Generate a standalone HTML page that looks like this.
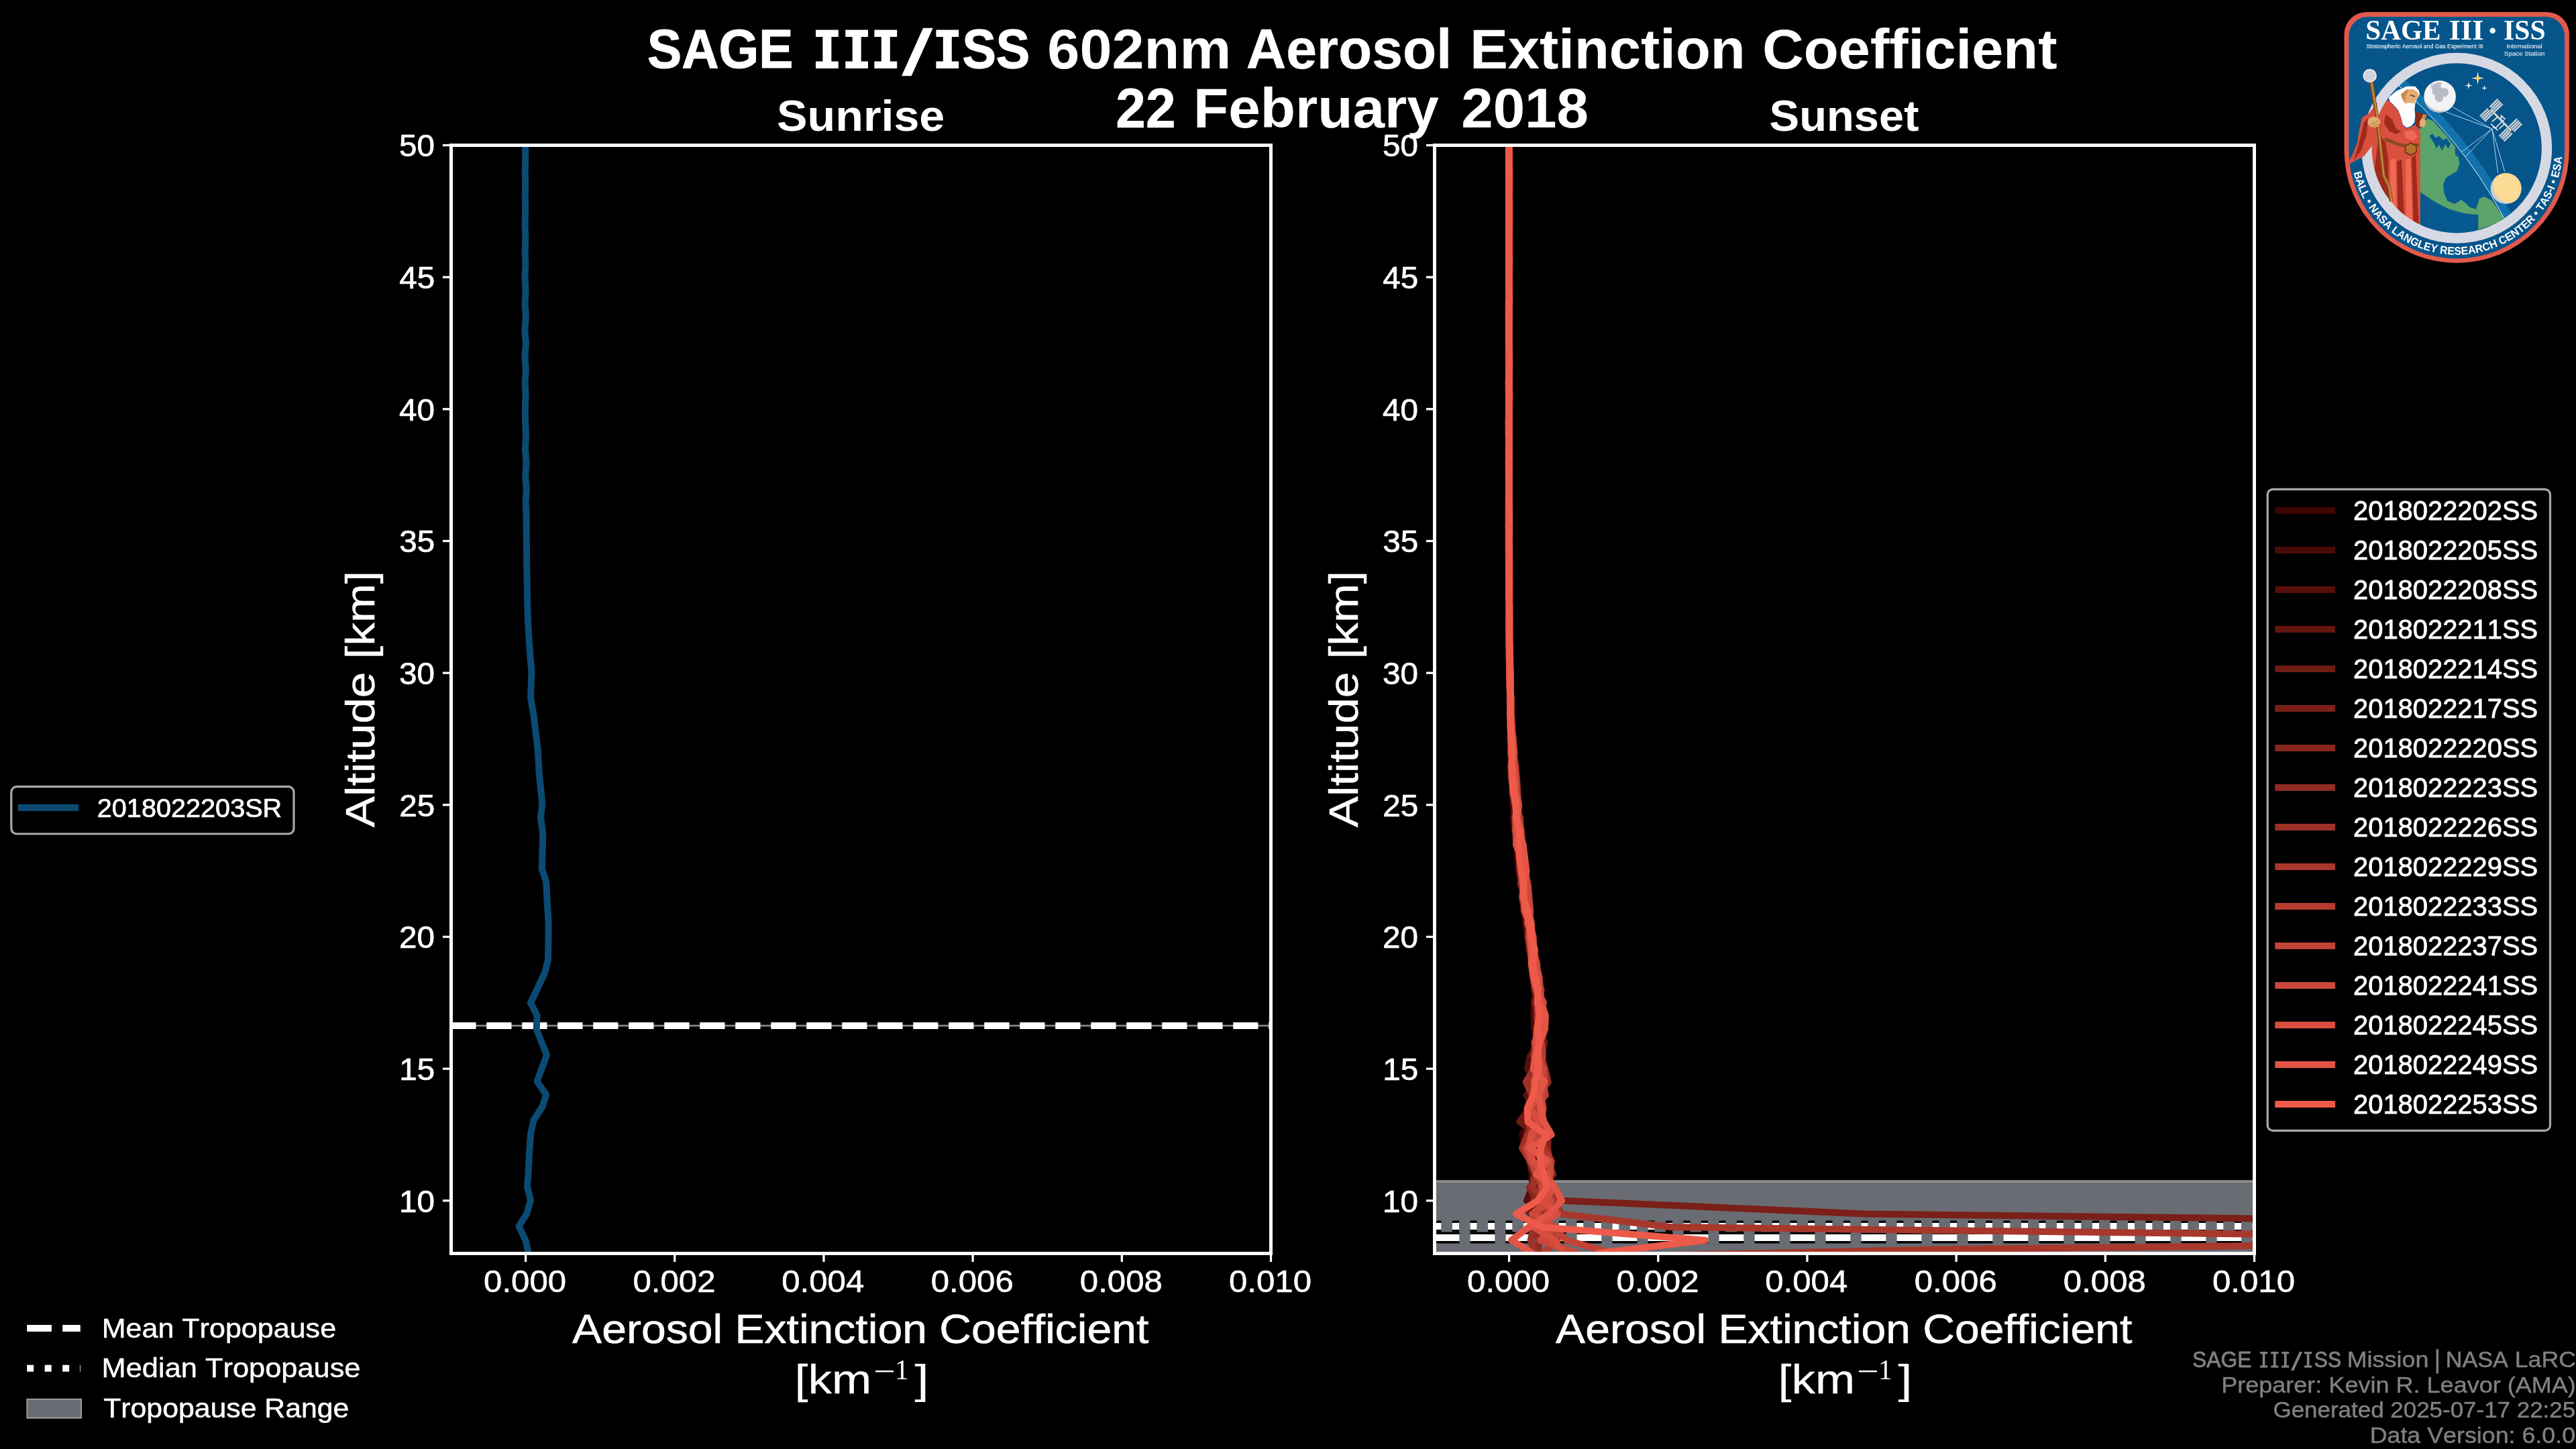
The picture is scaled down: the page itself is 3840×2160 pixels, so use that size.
<!DOCTYPE html>
<html><head><meta charset="utf-8"><title>SAGE III/ISS 602nm Aerosol Extinction Coefficient</title>
<style>html,body{margin:0;padding:0;background:#000;overflow:hidden}svg{display:block;will-change:transform}text{white-space:pre}</style></head>
<body><svg width="3840" height="2160" viewBox="0 0 3840 2160">
<rect width="3840" height="2160" fill="#000"/>
<clipPath id="clip0"><rect x="672.5" y="216.5" width="1222.0" height="1652.0"/></clipPath>
<g clip-path="url(#clip0)">
<rect x="672.5" y="1527.6" width="1222.0" height="2.8" fill="#858585"/>
<line x1="672.5" y1="1529.0" x2="1894.5" y2="1529.0" stroke="#fff" stroke-width="10" stroke-dasharray="37 16"/>
<line x1="672.5" y1="1529.0" x2="1894.5" y2="1529.0" stroke="#fff" stroke-width="10" stroke-dasharray="10 16.5"/>
<polyline points="783.0,216.5 783.3,236.0 782.7,256.0 783.2,275.0 782.8,295.0 783.2,315.0 782.6,335.0 783.4,354.0 782.6,374.0 783.5,394.0 782.5,413.0 783.6,433.0 782.6,453.0 783.8,472.0 782.4,492.0 783.9,512.0 782.5,531.0 783.8,551.0 782.6,571.0 783.6,590.0 782.8,610.0 783.2,630.0 784.0,650.0 783.0,670.0 784.5,690.0 783.2,709.0 784.8,729.0 783.6,749.0 784.6,768.0 784.8,800.0 785.3,850.0 786.0,890.0 786.7,920.0 788.5,950.0 790.5,980.0 792.5,1001.0 791.0,1040.0 796.0,1069.0 801.7,1118.0 804.0,1156.0 808.4,1198.0 806.0,1218.0 809.3,1243.0 807.8,1295.0 814.2,1315.0 815.7,1344.0 817.7,1376.0 817.0,1431.0 812.2,1450.0 791.0,1495.0 800.6,1514.0 799.7,1534.0 815.0,1573.0 800.6,1612.0 814.2,1632.0 808.4,1650.0 795.4,1670.0 791.0,1690.6 789.0,1720.0 787.5,1749.0 786.0,1769.0 791.0,1789.0 785.2,1809.4 773.6,1828.0 783.8,1850.0 788.0,1869.5" fill="none" stroke="#0b4a72" stroke-width="10.0" stroke-linejoin="round" stroke-linecap="butt"/>
</g>
<rect x="672.5" y="216.5" width="1222.0" height="1652.0" fill="none" stroke="#fff" stroke-width="5"/>
<line x1="672.50" y1="1789.83" x2="660.00" y2="1789.83" stroke="#fff" stroke-width="3.30"/>
<line x1="672.50" y1="1593.17" x2="660.00" y2="1593.17" stroke="#fff" stroke-width="3.30"/>
<line x1="672.50" y1="1396.50" x2="660.00" y2="1396.50" stroke="#fff" stroke-width="3.30"/>
<line x1="672.50" y1="1199.83" x2="660.00" y2="1199.83" stroke="#fff" stroke-width="3.30"/>
<line x1="672.50" y1="1003.17" x2="660.00" y2="1003.17" stroke="#fff" stroke-width="3.30"/>
<line x1="672.50" y1="806.50" x2="660.00" y2="806.50" stroke="#fff" stroke-width="3.30"/>
<line x1="672.50" y1="609.83" x2="660.00" y2="609.83" stroke="#fff" stroke-width="3.30"/>
<line x1="672.50" y1="413.17" x2="660.00" y2="413.17" stroke="#fff" stroke-width="3.30"/>
<line x1="672.50" y1="216.50" x2="660.00" y2="216.50" stroke="#fff" stroke-width="3.30"/>
<line x1="783.59" y1="1868.50" x2="783.59" y2="1881.00" stroke="#fff" stroke-width="3.30"/>
<line x1="1005.77" y1="1868.50" x2="1005.77" y2="1881.00" stroke="#fff" stroke-width="3.30"/>
<line x1="1227.95" y1="1868.50" x2="1227.95" y2="1881.00" stroke="#fff" stroke-width="3.30"/>
<line x1="1450.14" y1="1868.50" x2="1450.14" y2="1881.00" stroke="#fff" stroke-width="3.30"/>
<line x1="1672.32" y1="1868.50" x2="1672.32" y2="1881.00" stroke="#fff" stroke-width="3.30"/>
<line x1="1894.50" y1="1868.50" x2="1894.50" y2="1881.00" stroke="#fff" stroke-width="3.30"/>
<text transform="translate(595.09,1806.53) scale(1.0420,1.0000)" style="font-family:'Liberation Sans';font-size:45.70px;font-weight:400;font-kerning:none" fill="#fff"  stroke="#fff" stroke-width="0.72" stroke-linejoin="round">10</text>
<text transform="translate(595.23,1609.87) scale(1.0420,1.0000)" style="font-family:'Liberation Sans';font-size:45.70px;font-weight:400;font-kerning:none" fill="#fff"  stroke="#fff" stroke-width="0.72" stroke-linejoin="round">15</text>
<text transform="translate(595.09,1413.20) scale(1.0420,1.0000)" style="font-family:'Liberation Sans';font-size:45.70px;font-weight:400;font-kerning:none" fill="#fff"  stroke="#fff" stroke-width="0.72" stroke-linejoin="round">20</text>
<text transform="translate(595.23,1216.53) scale(1.0420,1.0000)" style="font-family:'Liberation Sans';font-size:45.70px;font-weight:400;font-kerning:none" fill="#fff"  stroke="#fff" stroke-width="0.72" stroke-linejoin="round">25</text>
<text transform="translate(595.09,1019.87) scale(1.0420,1.0000)" style="font-family:'Liberation Sans';font-size:45.70px;font-weight:400;font-kerning:none" fill="#fff"  stroke="#fff" stroke-width="0.72" stroke-linejoin="round">30</text>
<text transform="translate(595.23,823.20) scale(1.0420,1.0000)" style="font-family:'Liberation Sans';font-size:45.70px;font-weight:400;font-kerning:none" fill="#fff"  stroke="#fff" stroke-width="0.72" stroke-linejoin="round">35</text>
<text transform="translate(595.09,626.53) scale(1.0420,1.0000)" style="font-family:'Liberation Sans';font-size:45.70px;font-weight:400;font-kerning:none" fill="#fff"  stroke="#fff" stroke-width="0.72" stroke-linejoin="round">40</text>
<text transform="translate(595.23,429.87) scale(1.0420,1.0000)" style="font-family:'Liberation Sans';font-size:45.70px;font-weight:400;font-kerning:none" fill="#fff"  stroke="#fff" stroke-width="0.72" stroke-linejoin="round">45</text>
<text transform="translate(595.09,233.20) scale(1.0420,1.0000)" style="font-family:'Liberation Sans';font-size:45.70px;font-weight:400;font-kerning:none" fill="#fff"  stroke="#fff" stroke-width="0.72" stroke-linejoin="round">50</text>
<text transform="translate(721.02,1926.40) scale(1.0768,1.0000)" style="font-family:'Liberation Sans';font-size:45.70px;font-weight:400;font-kerning:none" fill="#fff"  stroke="#fff" stroke-width="0.56" stroke-linejoin="round">0.000</text>
<text transform="translate(943.48,1926.40) scale(1.0768,1.0000)" style="font-family:'Liberation Sans';font-size:45.70px;font-weight:400;font-kerning:none" fill="#fff"  stroke="#fff" stroke-width="0.56" stroke-linejoin="round">0.002</text>
<text transform="translate(1165.14,1926.40) scale(1.0768,1.0000)" style="font-family:'Liberation Sans';font-size:45.70px;font-weight:400;font-kerning:none" fill="#fff"  stroke="#fff" stroke-width="0.56" stroke-linejoin="round">0.004</text>
<text transform="translate(1387.68,1926.40) scale(1.0768,1.0000)" style="font-family:'Liberation Sans';font-size:45.70px;font-weight:400;font-kerning:none" fill="#fff"  stroke="#fff" stroke-width="0.56" stroke-linejoin="round">0.006</text>
<text transform="translate(1609.85,1926.40) scale(1.0768,1.0000)" style="font-family:'Liberation Sans';font-size:45.70px;font-weight:400;font-kerning:none" fill="#fff"  stroke="#fff" stroke-width="0.56" stroke-linejoin="round">0.008</text>
<text transform="translate(1831.93,1926.40) scale(1.0768,1.0000)" style="font-family:'Liberation Sans';font-size:45.70px;font-weight:400;font-kerning:none" fill="#fff"  stroke="#fff" stroke-width="0.56" stroke-linejoin="round">0.010</text>
<text transform="translate(557.50,1233.41) rotate(-90) scale(1.1419,1.0000)" style="font-family:'Liberation Sans';font-size:60.90px;font-weight:400;font-kerning:none" fill="#fff"  stroke="#fff" stroke-width="0.40" stroke-linejoin="round">Altitude [km]</text>
<text transform="translate(853.11,2001.69) scale(1.0985,1.0000)" style="font-family:'Liberation Sans';font-size:60.15px;font-weight:400;font-kerning:none" fill="#fff"  stroke="#fff" stroke-width="0.62" stroke-linejoin="round">Aerosol Extinction Coefficient</text>
<text transform="translate(1184.79,2077.17) scale(1.1710,1.0000)" style="font-family:'Liberation Sans';font-size:60.67px;font-weight:400;font-kerning:none" fill="#fff"  stroke="#fff" stroke-width="0.26" stroke-linejoin="round">[km</text>
<text transform="translate(1363.29,2077.30) scale(1.2694,1.0000)" style="font-family:'Liberation Sans';font-size:61.05px;font-weight:400;font-kerning:none" fill="#fff" >]</text>
<rect x="1305.0" y="2043.0" width="27" height="2.4" fill="#fff"/>
<text transform="translate(1333.88,2055.50) scale(0.9806,1.0000)" style="font-family:'Liberation Serif';font-size:42.00px;font-weight:400;font-kerning:none" fill="#fff" >1</text>
<clipPath id="clip1"><rect x="2138.5" y="216.5" width="1222.0" height="1652.0"/></clipPath>
<g clip-path="url(#clip1)">
<rect x="2138.5" y="1760.8" width="1222.0" height="112.7" fill="#696c72"/>
<rect x="2138.5" y="1759.0" width="1222.0" height="1.75" fill="#7c7e81"/>
<rect x="2138.5" y="1760.8" width="1222.0" height="1.7" fill="#a4a7aa"/>
<line x1="2138.5" y1="1828.0" x2="3360.5" y2="1828.0" stroke="#000" stroke-width="17" stroke-dasharray="10 16.5"/><line x1="2138.5" y1="1828.0" x2="3360.5" y2="1828.0" stroke="#fff" stroke-width="10" stroke-dasharray="10 16.5"/>
<line x1="2138.5" y1="1845.0" x2="3360.5" y2="1845.0" stroke="#000" stroke-width="17" stroke-dasharray="37 16"/><line x1="2138.5" y1="1845.0" x2="3360.5" y2="1845.0" stroke="#fff" stroke-width="10" stroke-dasharray="37 16"/>
<polyline points="2249.3,216.5 2249.9,236.2 2249.5,255.8 2249.1,275.5 2249.4,295.2 2248.8,314.8 2249.2,334.5 2249.4,354.2 2249.6,373.8 2249.0,393.5 2248.9,413.2 2248.7,432.8 2249.3,452.5 2249.4,472.2 2248.7,491.8 2249.7,511.5 2250.0,531.2 2249.6,550.8 2249.3,570.5 2248.9,590.2 2248.7,609.8 2249.0,629.5 2248.6,649.2 2248.6,668.8 2248.6,688.5 2248.6,708.2 2248.6,727.8 2248.6,747.5 2249.5,767.2 2249.2,786.8 2249.5,806.5 2249.2,826.2 2249.5,845.8 2249.5,865.5 2248.9,885.2 2250.0,904.8 2250.2,924.5 2250.1,944.2 2250.4,963.8 2250.0,983.5 2249.7,1003.2 2250.1,1022.8 2250.4,1042.5 2251.7,1062.2 2252.0,1081.8 2254.5,1101.5 2253.5,1121.2 2257.2,1140.8 2259.3,1160.5 2253.8,1180.2 2254.9,1199.8 2263.0,1219.5 2263.1,1239.2 2268.4,1258.8 2267.6,1278.5 2264.7,1298.2 2269.9,1317.8 2274.5,1337.5 2273.3,1357.2 2273.8,1376.8 2276.8,1396.5 2286.1,1416.2 2288.8,1435.8 2285.2,1455.5 2288.5,1475.2 2286.7,1494.8 2286.1,1514.5 2296.3,1534.2 2286.7,1553.8 2286.1,1573.5 2286.9,1593.2 2275.4,1612.8 2289.3,1632.5 2275.8,1652.2 2280.8,1671.8 2268.9,1691.5 2273.7,1711.2 2279.8,1730.8 2287.0,1750.5 2307.9,1770.2 2311.5,1789.8 2288.5,1809.5" fill="none" stroke="#400403" stroke-width="10.0" stroke-linejoin="round" stroke-linecap="butt"/>
<polyline points="2249.9,216.5 2249.0,236.2 2250.0,255.8 2248.8,275.5 2248.9,295.2 2249.5,314.8 2249.2,334.5 2249.0,354.2 2248.8,373.8 2248.7,393.5 2249.1,413.2 2249.0,432.8 2249.1,452.5 2249.0,472.2 2249.1,491.8 2249.9,511.5 2249.4,531.2 2249.4,550.8 2249.6,570.5 2249.0,590.2 2248.9,609.8 2249.6,629.5 2249.9,649.2 2249.2,668.8 2248.7,688.5 2249.5,708.2 2249.9,727.8 2248.7,747.5 2249.7,767.2 2249.7,786.8 2249.7,806.5 2249.2,826.2 2248.9,845.8 2248.8,865.5 2249.6,885.2 2249.1,904.8 2249.6,924.5 2249.1,944.2 2250.2,963.8 2250.4,983.5 2250.1,1003.2 2250.0,1022.8 2251.6,1042.5 2250.7,1062.2 2251.1,1081.8 2252.6,1101.5 2255.2,1121.2 2255.7,1140.8 2254.8,1160.5 2259.3,1180.2 2257.1,1199.8 2256.0,1219.5 2257.9,1239.2 2261.7,1258.8 2261.9,1278.5 2264.0,1298.2 2267.2,1317.8 2271.4,1337.5 2271.3,1357.2 2275.6,1376.8 2282.4,1396.5 2288.5,1416.2 2288.8,1435.8 2291.1,1455.5 2294.4,1475.2 2290.9,1494.8 2287.2,1514.5 2286.9,1534.2 2295.9,1553.8 2292.0,1573.5 2299.9,1593.2 2277.4,1612.8 2287.6,1632.5 2284.3,1652.2 2288.9,1671.8 2279.9,1691.5 2297.7,1711.2 2283.7,1730.8 2296.0,1750.5 2303.7,1770.2 2314.1,1789.8" fill="none" stroke="#4c0a07" stroke-width="10.0" stroke-linejoin="round" stroke-linecap="butt"/>
<polyline points="2249.5,216.5 2250.0,236.2 2250.2,255.8 2249.2,275.5 2249.7,295.2 2250.0,314.8 2249.6,334.5 2249.6,354.2 2249.3,373.8 2249.5,393.5 2249.5,413.2 2248.9,432.8 2249.1,452.5 2249.7,472.2 2250.1,491.8 2249.9,511.5 2249.3,531.2 2249.6,550.8 2249.2,570.5 2249.3,590.2 2249.7,609.8 2248.9,629.5 2249.5,649.2 2248.8,668.8 2249.1,688.5 2249.3,708.2 2248.6,727.8 2249.1,747.5 2249.2,767.2 2249.3,786.8 2250.1,806.5 2249.0,826.2 2248.7,845.8 2249.1,865.5 2249.3,885.2 2249.0,904.8 2248.9,924.5 2249.7,944.2 2250.2,963.8 2250.2,983.5 2251.2,1003.2 2250.8,1022.8 2251.7,1042.5 2251.1,1062.2 2251.8,1081.8 2254.3,1101.5 2256.1,1121.2 2258.3,1140.8 2256.5,1160.5 2257.5,1180.2 2257.5,1199.8 2257.3,1219.5 2261.2,1239.2 2266.7,1258.8 2271.7,1278.5 2272.2,1298.2 2276.2,1317.8 2271.8,1337.5 2271.8,1357.2 2276.7,1376.8 2277.5,1396.5 2279.7,1416.2 2283.8,1435.8 2288.6,1455.5 2292.6,1475.2 2293.1,1494.8 2299.6,1514.5 2303.1,1534.2 2295.9,1553.8 2280.9,1573.5 2277.0,1593.2 2291.4,1612.8 2275.6,1632.5 2286.6,1652.2 2284.7,1671.8 2278.5,1691.5 2290.5,1711.2 2279.9,1730.8 2284.1,1750.5 2284.0,1770.2 2276.0,1789.8 2300.0,1809.5 2290.0,1829.2" fill="none" stroke="#570f0c" stroke-width="10.0" stroke-linejoin="round" stroke-linecap="butt"/>
<polyline points="2249.3,216.5 2249.6,236.2 2249.7,255.8 2249.6,275.5 2250.0,295.2 2249.9,314.8 2249.1,334.5 2249.3,354.2 2249.0,373.8 2248.8,393.5 2249.0,413.2 2249.5,432.8 2248.7,452.5 2248.8,472.2 2248.9,491.8 2249.5,511.5 2249.3,531.2 2249.4,550.8 2249.5,570.5 2249.3,590.2 2249.7,609.8 2250.0,629.5 2249.1,649.2 2249.9,668.8 2249.6,688.5 2249.1,708.2 2248.9,727.8 2249.1,747.5 2249.8,767.2 2249.2,786.8 2249.4,806.5 2249.8,826.2 2249.9,845.8 2250.3,865.5 2249.5,885.2 2249.8,904.8 2249.2,924.5 2249.6,944.2 2250.4,963.8 2250.6,983.5 2251.1,1003.2 2250.5,1022.8 2252.1,1042.5 2253.0,1062.2 2254.3,1081.8 2254.6,1101.5 2255.7,1121.2 2253.9,1140.8 2258.9,1160.5 2260.5,1180.2 2259.1,1199.8 2257.6,1219.5 2260.8,1239.2 2263.9,1258.8 2270.0,1278.5 2269.7,1298.2 2266.2,1317.8 2273.9,1337.5 2271.6,1357.2 2279.8,1376.8 2277.8,1396.5 2281.1,1416.2 2287.7,1435.8 2285.4,1455.5 2287.9,1475.2 2294.1,1494.8 2298.4,1514.5 2301.1,1534.2 2299.6,1553.8 2298.1,1573.5 2293.3,1593.2 2302.4,1612.8 2281.0,1632.5 2276.5,1652.2 2278.2,1671.8 2276.0,1691.5 2288.0,1711.2 2299.6,1730.8 2300.7,1750.5 2311.4,1770.2 2305.3,1789.8 2287.9,1809.5 2284.9,1829.2" fill="none" stroke="#631510" stroke-width="10.0" stroke-linejoin="round" stroke-linecap="butt"/>
<polyline points="2249.7,216.5 2250.2,236.2 2249.8,255.8 2249.3,275.5 2249.0,295.2 2249.3,314.8 2249.3,334.5 2249.5,354.2 2248.9,373.8 2249.8,393.5 2249.5,413.2 2249.3,432.8 2249.6,452.5 2249.4,472.2 2249.4,491.8 2249.6,511.5 2248.7,531.2 2249.2,550.8 2248.8,570.5 2249.9,590.2 2250.1,609.8 2249.3,629.5 2249.3,649.2 2248.9,668.8 2249.0,688.5 2249.7,708.2 2250.0,727.8 2249.2,747.5 2249.1,767.2 2248.8,786.8 2249.3,806.5 2249.8,826.2 2249.1,845.8 2249.8,865.5 2248.8,885.2 2248.8,904.8 2248.9,924.5 2249.5,944.2 2249.7,963.8 2249.9,983.5 2250.6,1003.2 2250.2,1022.8 2251.7,1042.5 2251.0,1062.2 2252.1,1081.8 2251.9,1101.5 2251.9,1121.2 2253.6,1140.8 2255.5,1160.5 2255.7,1180.2 2257.9,1199.8 2261.1,1219.5 2259.4,1239.2 2260.2,1258.8 2267.5,1278.5 2270.4,1298.2 2271.6,1317.8 2276.4,1337.5 2277.4,1357.2 2282.4,1376.8 2279.3,1396.5 2285.5,1416.2 2289.5,1435.8 2293.9,1455.5 2293.0,1475.2 2293.7,1494.8 2301.4,1514.5 2294.3,1534.2 2302.2,1553.8 2298.1,1573.5 2286.3,1593.2 2278.1,1612.8 2291.5,1632.5 2280.9,1652.2 2265.2,1671.8 2292.2,1691.5 2283.0,1711.2 2303.3,1730.8 2291.4,1750.5 2289.6,1770.2 2303.4,1789.8 2275.3,1809.5" fill="none" stroke="#6e1b14" stroke-width="10.0" stroke-linejoin="round" stroke-linecap="butt"/>
<polyline points="2249.1,216.5 2249.4,236.2 2249.9,255.8 2249.3,275.5 2249.6,295.2 2249.0,314.8 2248.8,334.5 2248.7,354.2 2248.7,373.8 2249.3,393.5 2249.3,413.2 2249.5,432.8 2248.7,452.5 2248.7,472.2 2248.7,491.8 2249.6,511.5 2250.1,531.2 2250.1,550.8 2248.7,570.5 2248.7,590.2 2249.7,609.8 2249.5,629.5 2249.8,649.2 2249.3,668.8 2249.2,688.5 2249.4,708.2 2249.1,727.8 2249.1,747.5 2248.6,767.2 2249.2,786.8 2250.0,806.5 2249.0,826.2 2249.3,845.8 2249.8,865.5 2249.3,885.2 2249.1,904.8 2248.9,924.5 2249.3,944.2 2249.2,963.8 2250.5,983.5 2251.3,1003.2 2251.6,1022.8 2252.4,1042.5 2252.4,1062.2 2252.5,1081.8 2253.9,1101.5 2254.1,1121.2 2258.3,1140.8 2259.8,1160.5 2256.5,1180.2 2262.5,1199.8 2264.8,1219.5 2268.2,1239.2 2269.0,1258.8 2268.5,1278.5 2273.2,1298.2 2276.3,1317.8 2276.6,1337.5 2279.0,1357.2 2282.2,1376.8 2280.9,1396.5 2286.0,1416.2 2283.2,1435.8 2285.9,1455.5 2291.8,1475.2 2288.1,1494.8 2291.7,1514.5 2296.8,1534.2 2296.6,1553.8 2284.7,1573.5 2297.7,1593.2 2297.0,1612.8 2287.1,1632.5 2289.8,1652.2 2287.7,1671.8 2289.4,1691.5 2281.5,1711.2 2310.0,1730.8 2307.7,1750.5 2312.0,1770.2 2329.0,1789.8 2780.0,1809.5 4400.0,1829.2" fill="none" stroke="#7a2019" stroke-width="10.0" stroke-linejoin="round" stroke-linecap="butt"/>
<polyline points="2248.9,216.5 2248.8,236.2 2248.8,255.8 2248.8,275.5 2248.8,295.2 2248.8,314.8 2249.7,334.5 2249.6,354.2 2249.5,373.8 2250.0,393.5 2249.7,413.2 2250.1,432.8 2249.8,452.5 2249.8,472.2 2249.0,491.8 2249.4,511.5 2249.7,531.2 2248.9,550.8 2249.6,570.5 2249.1,590.2 2249.3,609.8 2248.9,629.5 2249.3,649.2 2249.6,668.8 2248.8,688.5 2249.8,708.2 2249.3,727.8 2249.1,747.5 2249.5,767.2 2249.1,786.8 2248.9,806.5 2249.4,826.2 2249.5,845.8 2249.4,865.5 2249.6,885.2 2249.3,904.8 2248.9,924.5 2248.9,944.2 2249.1,963.8 2249.4,983.5 2250.7,1003.2 2250.8,1022.8 2252.3,1042.5 2252.7,1062.2 2251.6,1081.8 2255.3,1101.5 2256.9,1121.2 2253.0,1140.8 2258.8,1160.5 2257.5,1180.2 2259.4,1199.8 2265.8,1219.5 2262.7,1239.2 2264.6,1258.8 2272.4,1278.5 2272.9,1298.2 2272.2,1317.8 2278.3,1337.5 2280.0,1357.2 2281.3,1376.8 2278.1,1396.5 2284.2,1416.2 2286.1,1435.8 2285.8,1455.5 2287.5,1475.2 2294.7,1494.8 2290.5,1514.5 2294.1,1534.2 2296.3,1553.8 2288.8,1573.5 2285.8,1593.2 2288.8,1612.8 2287.0,1632.5 2293.0,1652.2 2288.4,1671.8 2307.6,1691.5 2307.2,1711.2 2310.3,1730.8 2297.2,1750.5 2280.0,1770.2 2290.0,1789.8 2296.0,1809.5 2285.0,1829.2 2300.0,1848.8" fill="none" stroke="#86261d" stroke-width="10.0" stroke-linejoin="round" stroke-linecap="butt"/>
<polyline points="2249.8,216.5 2249.7,236.2 2249.8,255.8 2249.6,275.5 2249.2,295.2 2249.0,314.8 2249.9,334.5 2250.1,354.2 2250.0,373.8 2249.2,393.5 2248.7,413.2 2249.0,432.8 2248.9,452.5 2249.3,472.2 2248.9,491.8 2249.3,511.5 2248.7,531.2 2248.7,550.8 2249.1,570.5 2249.5,590.2 2249.6,609.8 2249.3,629.5 2249.4,649.2 2249.1,668.8 2249.0,688.5 2249.7,708.2 2250.0,727.8 2248.6,747.5 2248.6,767.2 2249.4,786.8 2249.8,806.5 2249.8,826.2 2249.3,845.8 2249.5,865.5 2249.0,885.2 2249.9,904.8 2249.5,924.5 2249.7,944.2 2250.8,963.8 2250.3,983.5 2250.7,1003.2 2251.6,1022.8 2252.6,1042.5 2252.1,1062.2 2252.3,1081.8 2251.5,1101.5 2255.2,1121.2 2252.3,1140.8 2252.7,1160.5 2256.4,1180.2 2259.1,1199.8 2263.3,1219.5 2262.3,1239.2 2267.1,1258.8 2264.8,1278.5 2265.9,1298.2 2271.6,1317.8 2268.7,1337.5 2272.7,1357.2 2279.9,1376.8 2282.8,1396.5 2282.9,1416.2 2283.0,1435.8 2286.2,1455.5 2294.9,1475.2 2296.3,1494.8 2291.1,1514.5 2297.9,1534.2 2296.6,1553.8 2297.5,1573.5 2303.2,1593.2 2307.9,1612.8 2294.4,1632.5 2296.1,1652.2 2282.2,1671.8 2280.4,1691.5 2279.8,1711.2 2308.2,1730.8 2314.7,1750.5 2296.9,1770.2 2295.5,1789.8 2288.3,1809.5 2286.4,1829.2 2293.3,1848.8 2294.2,1868.5" fill="none" stroke="#912c22" stroke-width="10.0" stroke-linejoin="round" stroke-linecap="butt"/>
<polyline points="2249.3,216.5 2249.9,236.2 2249.8,255.8 2249.8,275.5 2249.7,295.2 2249.1,314.8 2249.7,334.5 2250.0,354.2 2249.4,373.8 2249.0,393.5 2249.3,413.2 2249.5,432.8 2249.4,452.5 2249.9,472.2 2249.9,491.8 2250.1,511.5 2249.0,531.2 2249.3,550.8 2249.6,570.5 2249.0,590.2 2248.9,609.8 2249.5,629.5 2250.0,649.2 2249.2,668.8 2249.4,688.5 2249.1,708.2 2249.5,727.8 2249.4,747.5 2249.1,767.2 2248.9,786.8 2249.7,806.5 2249.4,826.2 2249.8,845.8 2249.7,865.5 2249.2,885.2 2250.2,904.8 2250.0,924.5 2249.7,944.2 2250.1,963.8 2250.7,983.5 2251.2,1003.2 2252.1,1022.8 2251.8,1042.5 2252.7,1062.2 2253.4,1081.8 2255.9,1101.5 2256.5,1121.2 2258.7,1140.8 2260.8,1160.5 2262.5,1180.2 2262.9,1199.8 2263.3,1219.5 2267.2,1239.2 2268.9,1258.8 2269.0,1278.5 2269.3,1298.2 2267.9,1317.8 2274.4,1337.5 2280.7,1357.2 2279.7,1376.8 2278.3,1396.5 2280.7,1416.2 2284.9,1435.8 2286.4,1455.5 2297.7,1475.2 2292.9,1494.8 2293.0,1514.5 2291.0,1534.2 2294.8,1553.8 2294.6,1573.5 2286.9,1593.2 2274.6,1612.8 2284.1,1632.5 2288.0,1652.2 2300.7,1671.8 2276.9,1691.5 2269.0,1711.2 2280.7,1730.8 2288.7,1750.5 2283.6,1770.2 2304.4,1789.8 2302.1,1809.5 2286.0,1829.2 2281.6,1848.8 2287.0,1868.5" fill="none" stroke="#9d3127" stroke-width="10.0" stroke-linejoin="round" stroke-linecap="butt"/>
<polyline points="2249.7,216.5 2249.4,236.2 2249.6,255.8 2249.7,275.5 2249.6,295.2 2249.2,314.8 2249.9,334.5 2250.1,354.2 2249.5,373.8 2249.6,393.5 2250.1,413.2 2249.7,432.8 2249.0,452.5 2248.7,472.2 2249.9,491.8 2250.1,511.5 2249.4,531.2 2249.5,550.8 2249.2,570.5 2249.2,590.2 2250.0,609.8 2249.9,629.5 2249.3,649.2 2248.8,668.8 2249.1,688.5 2249.3,708.2 2249.7,727.8 2249.6,747.5 2249.7,767.2 2249.0,786.8 2248.7,806.5 2248.9,826.2 2249.1,845.8 2250.0,865.5 2249.6,885.2 2249.9,904.8 2250.3,924.5 2249.5,944.2 2250.1,963.8 2249.8,983.5 2251.0,1003.2 2250.2,1022.8 2252.0,1042.5 2252.9,1062.2 2254.0,1081.8 2252.5,1101.5 2252.8,1121.2 2255.9,1140.8 2254.3,1160.5 2256.5,1180.2 2259.2,1199.8 2265.9,1219.5 2267.1,1239.2 2269.6,1258.8 2268.2,1278.5 2272.6,1298.2 2271.9,1317.8 2277.9,1337.5 2273.7,1357.2 2281.4,1376.8 2279.3,1396.5 2284.3,1416.2 2287.1,1435.8 2286.1,1455.5 2296.2,1475.2 2296.6,1494.8 2294.3,1514.5 2291.1,1534.2 2288.6,1553.8 2287.2,1573.5 2295.1,1593.2 2288.1,1612.8 2295.6,1632.5 2279.9,1652.2 2278.0,1671.8 2285.2,1691.5 2301.8,1711.2 2312.8,1730.8 2310.2,1750.5 2300.0,1770.2 2318.0,1789.8 2327.0,1809.5 2491.0,1829.2 4100.0,1848.8" fill="none" stroke="#a8372c" stroke-width="10.0" stroke-linejoin="round" stroke-linecap="butt"/>
<polyline points="2493.0,1871.0 2900.0,1862.3 3360.0,1857.0 3420.0,1856.4" fill="none" stroke="#a8372c" stroke-width="10.0" stroke-linejoin="round" stroke-linecap="butt"/>
<polyline points="2250.1,216.5 2250.1,236.2 2249.4,255.8 2249.4,275.5 2249.2,295.2 2249.3,314.8 2249.5,334.5 2249.3,354.2 2249.3,373.8 2249.3,393.5 2249.7,413.2 2249.3,432.8 2248.8,452.5 2249.5,472.2 2249.3,491.8 2250.1,511.5 2249.7,531.2 2249.8,550.8 2249.1,570.5 2249.9,590.2 2249.2,609.8 2248.8,629.5 2248.8,649.2 2249.6,668.8 2249.6,688.5 2249.3,708.2 2249.1,727.8 2249.6,747.5 2249.7,767.2 2248.9,786.8 2248.8,806.5 2248.7,826.2 2248.9,845.8 2249.4,865.5 2248.8,885.2 2250.0,904.8 2249.6,924.5 2249.6,944.2 2250.3,963.8 2250.9,983.5 2251.6,1003.2 2251.2,1022.8 2251.4,1042.5 2251.7,1062.2 2251.2,1081.8 2252.5,1101.5 2254.9,1121.2 2259.2,1140.8 2260.4,1160.5 2260.3,1180.2 2262.0,1199.8 2258.8,1219.5 2261.1,1239.2 2262.8,1258.8 2269.4,1278.5 2266.8,1298.2 2269.5,1317.8 2272.9,1337.5 2278.6,1357.2 2283.2,1376.8 2283.6,1396.5 2282.4,1416.2 2288.8,1435.8 2294.4,1455.5 2296.4,1475.2 2297.6,1494.8 2297.6,1514.5 2293.1,1534.2 2297.6,1553.8 2299.8,1573.5 2296.3,1593.2 2299.6,1612.8 2304.1,1632.5 2285.1,1652.2 2301.5,1671.8 2300.3,1691.5 2280.5,1711.2 2282.0,1730.8 2290.5,1750.5 2299.1,1770.2 2296.0,1789.8 2310.0,1809.5 2300.0,1829.2 2322.0,1848.8 2300.0,1868.5" fill="none" stroke="#b43d30" stroke-width="10.0" stroke-linejoin="round" stroke-linecap="butt"/>
<polyline points="2250.2,216.5 2249.3,236.2 2250.1,255.8 2249.5,275.5 2249.6,295.2 2249.7,314.8 2249.3,334.5 2250.0,354.2 2250.1,373.8 2250.1,393.5 2249.9,413.2 2249.2,432.8 2249.7,452.5 2249.2,472.2 2250.1,491.8 2249.3,511.5 2249.5,531.2 2249.9,550.8 2248.9,570.5 2249.5,590.2 2249.1,609.8 2248.6,629.5 2248.9,649.2 2250.0,668.8 2250.0,688.5 2250.0,708.2 2249.3,727.8 2249.5,747.5 2249.9,767.2 2249.3,786.8 2249.7,806.5 2249.9,826.2 2249.1,845.8 2249.2,865.5 2249.3,885.2 2249.1,904.8 2249.3,924.5 2249.6,944.2 2249.6,963.8 2250.3,983.5 2250.2,1003.2 2251.1,1022.8 2251.4,1042.5 2252.2,1062.2 2251.6,1081.8 2254.1,1101.5 2252.8,1121.2 2258.0,1140.8 2258.8,1160.5 2258.3,1180.2 2259.6,1199.8 2263.4,1219.5 2267.4,1239.2 2268.9,1258.8 2272.7,1278.5 2271.5,1298.2 2277.5,1317.8 2279.4,1337.5 2281.3,1357.2 2280.6,1376.8 2281.2,1396.5 2285.4,1416.2 2291.1,1435.8 2291.7,1455.5 2295.3,1475.2 2298.5,1494.8 2303.9,1514.5 2297.5,1534.2 2287.6,1553.8 2292.0,1573.5 2301.2,1593.2 2303.1,1612.8 2298.8,1632.5 2297.4,1652.2 2284.8,1671.8 2293.6,1691.5 2274.4,1711.2 2281.8,1730.8 2296.2,1750.5 2299.6,1770.2 2299.4,1789.8 2290.0,1809.5 2316.0,1829.2 2335.0,1848.8 2405.0,1868.5" fill="none" stroke="#c04335" stroke-width="10.0" stroke-linejoin="round" stroke-linecap="butt"/>
<polyline points="2249.2,216.5 2249.2,236.2 2248.9,255.8 2249.6,275.5 2250.2,295.2 2250.2,314.8 2250.2,334.5 2249.7,354.2 2249.9,373.8 2249.4,393.5 2249.8,413.2 2249.7,432.8 2250.1,452.5 2249.1,472.2 2249.9,491.8 2249.1,511.5 2249.4,531.2 2250.0,550.8 2248.7,570.5 2249.0,590.2 2249.2,609.8 2249.1,629.5 2248.9,649.2 2249.9,668.8 2249.9,688.5 2249.7,708.2 2249.2,727.8 2249.3,747.5 2248.8,767.2 2248.6,786.8 2250.0,806.5 2249.3,826.2 2249.5,845.8 2250.3,865.5 2250.3,885.2 2250.0,904.8 2249.4,924.5 2249.3,944.2 2250.6,963.8 2251.2,983.5 2250.5,1003.2 2251.8,1022.8 2251.7,1042.5 2252.0,1062.2 2251.9,1081.8 2255.3,1101.5 2257.5,1121.2 2254.9,1140.8 2258.0,1160.5 2256.0,1180.2 2262.9,1199.8 2259.6,1219.5 2259.2,1239.2 2266.3,1258.8 2267.5,1278.5 2273.7,1298.2 2277.3,1317.8 2278.1,1337.5 2274.6,1357.2 2280.9,1376.8 2285.8,1396.5 2286.1,1416.2 2284.1,1435.8 2285.9,1455.5 2291.0,1475.2 2301.1,1494.8 2294.6,1514.5 2293.0,1534.2 2289.0,1553.8 2291.6,1573.5 2299.1,1593.2 2291.7,1612.8 2297.2,1632.5 2300.5,1652.2 2297.4,1671.8 2284.8,1691.5 2280.0,1711.2 2310.1,1730.8 2310.8,1750.5 2298.6,1770.2 2312.0,1789.8 2284.0,1809.5 2318.0,1829.2 2296.0,1848.8 2352.0,1868.5" fill="none" stroke="#cb483a" stroke-width="10.0" stroke-linejoin="round" stroke-linecap="butt"/>
<polyline points="2248.8,216.5 2249.6,236.2 2249.4,255.8 2248.9,275.5 2249.8,295.2 2249.1,314.8 2249.2,334.5 2249.8,354.2 2249.4,373.8 2249.3,393.5 2249.5,413.2 2249.2,432.8 2249.9,452.5 2250.1,472.2 2249.2,491.8 2249.4,511.5 2249.8,531.2 2249.5,550.8 2250.1,570.5 2249.8,590.2 2249.3,609.8 2249.5,629.5 2249.8,649.2 2249.5,668.8 2249.6,688.5 2250.0,708.2 2249.7,727.8 2249.4,747.5 2250.0,767.2 2249.7,786.8 2249.9,806.5 2250.2,826.2 2249.4,845.8 2250.1,865.5 2249.2,885.2 2249.8,904.8 2249.4,924.5 2249.5,944.2 2250.5,963.8 2251.0,983.5 2251.7,1003.2 2251.0,1022.8 2251.8,1042.5 2251.5,1062.2 2252.8,1081.8 2254.1,1101.5 2252.4,1121.2 2255.2,1140.8 2258.8,1160.5 2259.3,1180.2 2264.2,1199.8 2261.4,1219.5 2260.7,1239.2 2259.9,1258.8 2267.2,1278.5 2269.4,1298.2 2271.5,1317.8 2271.4,1337.5 2278.6,1357.2 2276.9,1376.8 2284.3,1396.5 2286.8,1416.2 2288.6,1435.8 2293.6,1455.5 2293.3,1475.2 2292.9,1494.8 2294.0,1514.5 2291.2,1534.2 2289.8,1553.8 2291.3,1573.5 2293.9,1593.2 2286.2,1612.8 2293.6,1632.5 2280.2,1652.2 2295.7,1671.8 2282.6,1691.5 2278.1,1711.2 2285.0,1730.8 2304.5,1750.5 2317.9,1770.2 2300.0,1789.8 2322.0,1809.5 2286.0,1829.2 2318.0,1848.8 2330.0,1868.5" fill="none" stroke="#d74e40" stroke-width="10.0" stroke-linejoin="round" stroke-linecap="butt"/>
<polyline points="2249.3,216.5 2249.6,236.2 2250.1,255.8 2250.2,275.5 2249.4,295.2 2249.5,314.8 2249.9,334.5 2249.2,354.2 2249.2,373.8 2249.9,393.5 2249.3,413.2 2249.4,432.8 2249.1,452.5 2249.2,472.2 2248.9,491.8 2248.7,511.5 2249.9,531.2 2250.0,550.8 2250.0,570.5 2249.4,590.2 2249.3,609.8 2249.6,629.5 2249.3,649.2 2249.5,668.8 2249.9,688.5 2249.7,708.2 2249.2,727.8 2250.0,747.5 2249.9,767.2 2249.0,786.8 2249.3,806.5 2249.6,826.2 2249.1,845.8 2249.4,865.5 2249.7,885.2 2250.4,904.8 2250.0,924.5 2250.3,944.2 2250.4,963.8 2250.4,983.5 2251.5,1003.2 2251.3,1022.8 2252.4,1042.5 2251.8,1062.2 2252.3,1081.8 2252.3,1101.5 2254.4,1121.2 2253.1,1140.8 2254.5,1160.5 2255.1,1180.2 2259.2,1199.8 2260.8,1219.5 2263.9,1239.2 2270.6,1258.8 2273.0,1278.5 2275.4,1298.2 2271.5,1317.8 2272.8,1337.5 2272.6,1357.2 2280.4,1376.8 2280.9,1396.5 2283.0,1416.2 2282.7,1435.8 2285.2,1455.5 2290.6,1475.2 2295.8,1494.8 2303.9,1514.5 2303.0,1534.2 2295.3,1553.8 2288.6,1573.5 2285.6,1593.2 2302.3,1612.8 2292.8,1632.5 2296.9,1652.2 2301.4,1671.8 2312.7,1691.5 2280.2,1711.2 2306.0,1730.8 2290.0,1750.5 2318.0,1770.2 2328.0,1789.8 2310.0,1809.5 2279.0,1829.2 2253.0,1848.8 2285.0,1868.5" fill="none" stroke="#e25445" stroke-width="10.0" stroke-linejoin="round" stroke-linecap="butt"/>
<polyline points="2249.1,216.5 2249.0,236.2 2249.0,255.8 2249.3,275.5 2249.0,295.2 2249.1,314.8 2249.4,334.5 2249.6,354.2 2249.2,373.8 2249.7,393.5 2249.4,413.2 2249.8,432.8 2249.9,452.5 2249.1,472.2 2249.1,491.8 2249.1,511.5 2249.7,531.2 2249.5,550.8 2249.2,570.5 2250.1,590.2 2249.5,609.8 2249.3,629.5 2249.4,649.2 2249.2,668.8 2248.8,688.5 2248.9,708.2 2249.4,727.8 2249.4,747.5 2250.0,767.2 2250.1,786.8 2249.7,806.5 2249.8,826.2 2250.2,845.8 2249.7,865.5 2249.8,885.2 2250.1,904.8 2250.4,924.5 2250.5,944.2 2250.1,963.8 2250.7,983.5 2250.1,1003.2 2250.9,1022.8 2251.6,1042.5 2251.1,1062.2 2252.2,1081.8 2253.0,1101.5 2254.4,1121.2 2254.1,1140.8 2254.6,1160.5 2256.7,1180.2 2260.0,1199.8 2260.0,1219.5 2266.1,1239.2 2264.0,1258.8 2264.9,1278.5 2268.1,1298.2 2271.1,1317.8 2270.3,1337.5 2276.6,1357.2 2282.0,1376.8 2283.2,1396.5 2287.8,1416.2 2284.5,1435.8 2288.2,1455.5 2292.9,1475.2 2291.8,1494.8 2295.4,1514.5 2292.1,1534.2 2294.2,1553.8 2292.6,1573.5 2293.8,1593.2 2288.7,1612.8 2285.5,1632.5 2276.8,1652.2 2277.4,1671.8 2304.1,1691.5 2296.7,1711.2 2296.0,1730.8 2301.0,1750.5 2306.0,1770.2 2292.0,1789.8 2260.0,1809.5 2298.0,1829.2 2542.0,1848.8 2380.0,1868.5" fill="none" stroke="#ee5a4a" stroke-width="10.0" stroke-linejoin="round" stroke-linecap="butt"/>
</g>
<rect x="2138.5" y="216.5" width="1222.0" height="1652.0" fill="none" stroke="#fff" stroke-width="5"/>
<line x1="2138.50" y1="1789.83" x2="2126.00" y2="1789.83" stroke="#fff" stroke-width="3.30"/>
<line x1="2138.50" y1="1593.17" x2="2126.00" y2="1593.17" stroke="#fff" stroke-width="3.30"/>
<line x1="2138.50" y1="1396.50" x2="2126.00" y2="1396.50" stroke="#fff" stroke-width="3.30"/>
<line x1="2138.50" y1="1199.83" x2="2126.00" y2="1199.83" stroke="#fff" stroke-width="3.30"/>
<line x1="2138.50" y1="1003.17" x2="2126.00" y2="1003.17" stroke="#fff" stroke-width="3.30"/>
<line x1="2138.50" y1="806.50" x2="2126.00" y2="806.50" stroke="#fff" stroke-width="3.30"/>
<line x1="2138.50" y1="609.83" x2="2126.00" y2="609.83" stroke="#fff" stroke-width="3.30"/>
<line x1="2138.50" y1="413.17" x2="2126.00" y2="413.17" stroke="#fff" stroke-width="3.30"/>
<line x1="2138.50" y1="216.50" x2="2126.00" y2="216.50" stroke="#fff" stroke-width="3.30"/>
<line x1="2249.59" y1="1868.50" x2="2249.59" y2="1881.00" stroke="#fff" stroke-width="3.30"/>
<line x1="2471.77" y1="1868.50" x2="2471.77" y2="1881.00" stroke="#fff" stroke-width="3.30"/>
<line x1="2693.95" y1="1868.50" x2="2693.95" y2="1881.00" stroke="#fff" stroke-width="3.30"/>
<line x1="2916.14" y1="1868.50" x2="2916.14" y2="1881.00" stroke="#fff" stroke-width="3.30"/>
<line x1="3138.32" y1="1868.50" x2="3138.32" y2="1881.00" stroke="#fff" stroke-width="3.30"/>
<line x1="3360.50" y1="1868.50" x2="3360.50" y2="1881.00" stroke="#fff" stroke-width="3.30"/>
<text transform="translate(2061.09,1806.53) scale(1.0420,1.0000)" style="font-family:'Liberation Sans';font-size:45.70px;font-weight:400;font-kerning:none" fill="#fff"  stroke="#fff" stroke-width="0.72" stroke-linejoin="round">10</text>
<text transform="translate(2061.23,1609.87) scale(1.0420,1.0000)" style="font-family:'Liberation Sans';font-size:45.70px;font-weight:400;font-kerning:none" fill="#fff"  stroke="#fff" stroke-width="0.72" stroke-linejoin="round">15</text>
<text transform="translate(2061.09,1413.20) scale(1.0420,1.0000)" style="font-family:'Liberation Sans';font-size:45.70px;font-weight:400;font-kerning:none" fill="#fff"  stroke="#fff" stroke-width="0.72" stroke-linejoin="round">20</text>
<text transform="translate(2061.23,1216.53) scale(1.0420,1.0000)" style="font-family:'Liberation Sans';font-size:45.70px;font-weight:400;font-kerning:none" fill="#fff"  stroke="#fff" stroke-width="0.72" stroke-linejoin="round">25</text>
<text transform="translate(2061.09,1019.87) scale(1.0420,1.0000)" style="font-family:'Liberation Sans';font-size:45.70px;font-weight:400;font-kerning:none" fill="#fff"  stroke="#fff" stroke-width="0.72" stroke-linejoin="round">30</text>
<text transform="translate(2061.23,823.20) scale(1.0420,1.0000)" style="font-family:'Liberation Sans';font-size:45.70px;font-weight:400;font-kerning:none" fill="#fff"  stroke="#fff" stroke-width="0.72" stroke-linejoin="round">35</text>
<text transform="translate(2061.09,626.53) scale(1.0420,1.0000)" style="font-family:'Liberation Sans';font-size:45.70px;font-weight:400;font-kerning:none" fill="#fff"  stroke="#fff" stroke-width="0.72" stroke-linejoin="round">40</text>
<text transform="translate(2061.23,429.87) scale(1.0420,1.0000)" style="font-family:'Liberation Sans';font-size:45.70px;font-weight:400;font-kerning:none" fill="#fff"  stroke="#fff" stroke-width="0.72" stroke-linejoin="round">45</text>
<text transform="translate(2061.09,233.20) scale(1.0420,1.0000)" style="font-family:'Liberation Sans';font-size:45.70px;font-weight:400;font-kerning:none" fill="#fff"  stroke="#fff" stroke-width="0.72" stroke-linejoin="round">50</text>
<text transform="translate(2187.02,1926.40) scale(1.0768,1.0000)" style="font-family:'Liberation Sans';font-size:45.70px;font-weight:400;font-kerning:none" fill="#fff"  stroke="#fff" stroke-width="0.56" stroke-linejoin="round">0.000</text>
<text transform="translate(2409.48,1926.40) scale(1.0768,1.0000)" style="font-family:'Liberation Sans';font-size:45.70px;font-weight:400;font-kerning:none" fill="#fff"  stroke="#fff" stroke-width="0.56" stroke-linejoin="round">0.002</text>
<text transform="translate(2631.14,1926.40) scale(1.0768,1.0000)" style="font-family:'Liberation Sans';font-size:45.70px;font-weight:400;font-kerning:none" fill="#fff"  stroke="#fff" stroke-width="0.56" stroke-linejoin="round">0.004</text>
<text transform="translate(2853.68,1926.40) scale(1.0768,1.0000)" style="font-family:'Liberation Sans';font-size:45.70px;font-weight:400;font-kerning:none" fill="#fff"  stroke="#fff" stroke-width="0.56" stroke-linejoin="round">0.006</text>
<text transform="translate(3075.85,1926.40) scale(1.0768,1.0000)" style="font-family:'Liberation Sans';font-size:45.70px;font-weight:400;font-kerning:none" fill="#fff"  stroke="#fff" stroke-width="0.56" stroke-linejoin="round">0.008</text>
<text transform="translate(3297.93,1926.40) scale(1.0768,1.0000)" style="font-family:'Liberation Sans';font-size:45.70px;font-weight:400;font-kerning:none" fill="#fff"  stroke="#fff" stroke-width="0.56" stroke-linejoin="round">0.010</text>
<text transform="translate(2023.50,1233.41) rotate(-90) scale(1.1419,1.0000)" style="font-family:'Liberation Sans';font-size:60.90px;font-weight:400;font-kerning:none" fill="#fff"  stroke="#fff" stroke-width="0.40" stroke-linejoin="round">Altitude [km]</text>
<text transform="translate(2319.11,2001.69) scale(1.0985,1.0000)" style="font-family:'Liberation Sans';font-size:60.15px;font-weight:400;font-kerning:none" fill="#fff"  stroke="#fff" stroke-width="0.62" stroke-linejoin="round">Aerosol Extinction Coefficient</text>
<text transform="translate(2650.79,2077.17) scale(1.1710,1.0000)" style="font-family:'Liberation Sans';font-size:60.67px;font-weight:400;font-kerning:none" fill="#fff"  stroke="#fff" stroke-width="0.26" stroke-linejoin="round">[km</text>
<text transform="translate(2829.29,2077.30) scale(1.2694,1.0000)" style="font-family:'Liberation Sans';font-size:61.05px;font-weight:400;font-kerning:none" fill="#fff" >]</text>
<rect x="2771.0" y="2043.0" width="27" height="2.4" fill="#fff"/>
<text transform="translate(2799.88,2055.50) scale(0.9806,1.0000)" style="font-family:'Liberation Serif';font-size:42.00px;font-weight:400;font-kerning:none" fill="#fff" >1</text>
<text transform="translate(1158.03,195.00) scale(1.0433,1.0000)" style="font-family:'Liberation Sans';font-size:65.41px;font-weight:700;font-kerning:none" fill="#fff" >Sunrise</text>
<text transform="translate(2637.60,194.67) scale(1.0229,1.0000)" style="font-family:'Liberation Sans';font-size:65.33px;font-weight:700;font-kerning:none" fill="#fff"  stroke="#fff" stroke-width="0.06" stroke-linejoin="round">Sunset</text>
<text transform="translate(965.12,101.44) scale(0.9355,1.0000)" style="font-family:'Liberation Sans';font-size:81.94px;font-weight:700;font-kerning:none" fill="#fff"  stroke="#fff" stroke-width="1.12" stroke-linejoin="round">SAGE</text>
<text transform="translate(1561.33,102.00) scale(1.0348,1.0000)" style="font-family:'Liberation Sans';font-size:83.58px;font-weight:700;font-kerning:none" fill="#fff" >602nm</text>
<text transform="translate(1857.87,101.78) scale(0.9913,1.0000)" style="font-family:'Liberation Sans';font-size:82.95px;font-weight:700;font-kerning:none" fill="#fff"  stroke="#fff" stroke-width="0.43" stroke-linejoin="round">Aerosol</text>
<text transform="translate(2191.18,101.94) scale(1.0184,1.0000)" style="font-family:'Liberation Sans';font-size:83.40px;font-weight:700;font-kerning:none" fill="#fff"  stroke="#fff" stroke-width="0.12" stroke-linejoin="round">Extinction</text>
<text transform="translate(2627.27,101.95) scale(1.0195,1.0000)" style="font-family:'Liberation Sans';font-size:83.42px;font-weight:700;font-kerning:none" fill="#fff"  stroke="#fff" stroke-width="0.11" stroke-linejoin="round">Coefficient</text>
<path fill="#fff" d="M1216.0 44.5H1249.8V55.0H1239.4V91.5H1249.8V102.0H1216.0V91.5H1226.4V55.0H1216.0Z"/>
<path fill="#fff" d="M1260.3 44.5H1294.0V55.0H1283.7V91.5H1294.0V102.0H1260.3V91.5H1270.7V55.0H1260.3Z"/>
<path fill="#fff" d="M1303.4 44.5H1337.2V55.0H1326.8V91.5H1337.2V102.0H1303.4V91.5H1313.8V55.0H1303.4Z"/>
<path fill="#fff" d="M1395.4 44.5H1429.2V55.0H1418.8V91.5H1429.2V102.0H1395.4V91.5H1405.8V55.0H1395.4Z"/>
<path fill="#fff" d="M1344 113.2L1358.6 113.2L1390.7 41.8L1376.1 41.8Z"/>
<text transform="translate(1434.41,101.36) scale(0.9241,1.0000)" style="font-family:'Liberation Sans';font-size:81.73px;font-weight:700;font-kerning:none" fill="#fff"  stroke="#fff" stroke-width="1.27" stroke-linejoin="round">SS</text>
<text transform="translate(1663.36,189.86) scale(0.9702,1.0000)" style="font-family:'Liberation Sans';font-size:82.58px;font-weight:700;font-kerning:none" fill="#fff"  stroke="#fff" stroke-width="0.69" stroke-linejoin="round">22</text>
<text transform="translate(1778.91,190.17) scale(1.0244,1.0000)" style="font-family:'Liberation Sans';font-size:83.50px;font-weight:700;font-kerning:none" fill="#fff"  stroke="#fff" stroke-width="0.05" stroke-linejoin="round">February</text>
<text transform="translate(2178.29,190.16) scale(1.0213,1.0000)" style="font-family:'Liberation Sans';font-size:83.45px;font-weight:700;font-kerning:none" fill="#fff"  stroke="#fff" stroke-width="0.09" stroke-linejoin="round">2018</text>
<rect x="16.8" y="1172.7" width="421.2" height="70.3" rx="8" ry="8" fill="#000" stroke="#a9a9a9" stroke-width="3.2"/>
<rect x="26.8" y="1199" width="90.2" height="10" fill="#0b4a72"/>
<text transform="translate(144.78,1217.53) scale(1.0113,1.0000)" style="font-family:'Liberation Sans';font-size:39.19px;font-weight:400;font-kerning:none" fill="#fff"  stroke="#fff" stroke-width="0.74" stroke-linejoin="round">2018022203SR</text>
<rect x="3380.2" y="729.3" width="421.3" height="956.1" rx="8" ry="8" fill="#000" stroke="#a9a9a9" stroke-width="3.2"/>
<rect x="3391.3" y="756.0" width="89.8" height="10" fill="#400403"/>
<text transform="translate(3507.99,774.90) scale(0.9846,1.0000)" style="font-family:'Liberation Sans';font-size:40.55px;font-weight:400;font-kerning:none" fill="#fff"  stroke="#fff" stroke-width="0.88" stroke-linejoin="round">2018022202SS</text>
<rect x="3391.3" y="815.0" width="89.8" height="10" fill="#4c0a07"/>
<text transform="translate(3507.99,833.90) scale(0.9846,1.0000)" style="font-family:'Liberation Sans';font-size:40.55px;font-weight:400;font-kerning:none" fill="#fff"  stroke="#fff" stroke-width="0.88" stroke-linejoin="round">2018022205SS</text>
<rect x="3391.3" y="874.0" width="89.8" height="10" fill="#570f0c"/>
<text transform="translate(3507.99,892.90) scale(0.9846,1.0000)" style="font-family:'Liberation Sans';font-size:40.55px;font-weight:400;font-kerning:none" fill="#fff"  stroke="#fff" stroke-width="0.88" stroke-linejoin="round">2018022208SS</text>
<rect x="3391.3" y="933.0" width="89.8" height="10" fill="#631510"/>
<text transform="translate(3507.99,951.90) scale(0.9846,1.0000)" style="font-family:'Liberation Sans';font-size:40.55px;font-weight:400;font-kerning:none" fill="#fff"  stroke="#fff" stroke-width="0.88" stroke-linejoin="round">2018022211SS</text>
<rect x="3391.3" y="992.0" width="89.8" height="10" fill="#6e1b14"/>
<text transform="translate(3507.99,1010.90) scale(0.9846,1.0000)" style="font-family:'Liberation Sans';font-size:40.55px;font-weight:400;font-kerning:none" fill="#fff"  stroke="#fff" stroke-width="0.88" stroke-linejoin="round">2018022214SS</text>
<rect x="3391.3" y="1051.0" width="89.8" height="10" fill="#7a2019"/>
<text transform="translate(3507.99,1069.90) scale(0.9846,1.0000)" style="font-family:'Liberation Sans';font-size:40.55px;font-weight:400;font-kerning:none" fill="#fff"  stroke="#fff" stroke-width="0.88" stroke-linejoin="round">2018022217SS</text>
<rect x="3391.3" y="1110.0" width="89.8" height="10" fill="#86261d"/>
<text transform="translate(3507.99,1128.90) scale(0.9846,1.0000)" style="font-family:'Liberation Sans';font-size:40.55px;font-weight:400;font-kerning:none" fill="#fff"  stroke="#fff" stroke-width="0.88" stroke-linejoin="round">2018022220SS</text>
<rect x="3391.3" y="1169.0" width="89.8" height="10" fill="#912c22"/>
<text transform="translate(3507.99,1187.90) scale(0.9846,1.0000)" style="font-family:'Liberation Sans';font-size:40.55px;font-weight:400;font-kerning:none" fill="#fff"  stroke="#fff" stroke-width="0.88" stroke-linejoin="round">2018022223SS</text>
<rect x="3391.3" y="1228.0" width="89.8" height="10" fill="#9d3127"/>
<text transform="translate(3507.99,1246.90) scale(0.9846,1.0000)" style="font-family:'Liberation Sans';font-size:40.55px;font-weight:400;font-kerning:none" fill="#fff"  stroke="#fff" stroke-width="0.88" stroke-linejoin="round">2018022226SS</text>
<rect x="3391.3" y="1287.0" width="89.8" height="10" fill="#a8372c"/>
<text transform="translate(3507.99,1305.90) scale(0.9846,1.0000)" style="font-family:'Liberation Sans';font-size:40.55px;font-weight:400;font-kerning:none" fill="#fff"  stroke="#fff" stroke-width="0.88" stroke-linejoin="round">2018022229SS</text>
<rect x="3391.3" y="1346.0" width="89.8" height="10" fill="#b43d30"/>
<text transform="translate(3507.99,1364.90) scale(0.9846,1.0000)" style="font-family:'Liberation Sans';font-size:40.55px;font-weight:400;font-kerning:none" fill="#fff"  stroke="#fff" stroke-width="0.88" stroke-linejoin="round">2018022233SS</text>
<rect x="3391.3" y="1405.0" width="89.8" height="10" fill="#c04335"/>
<text transform="translate(3507.99,1423.90) scale(0.9846,1.0000)" style="font-family:'Liberation Sans';font-size:40.55px;font-weight:400;font-kerning:none" fill="#fff"  stroke="#fff" stroke-width="0.88" stroke-linejoin="round">2018022237SS</text>
<rect x="3391.3" y="1464.0" width="89.8" height="10" fill="#cb483a"/>
<text transform="translate(3507.99,1482.90) scale(0.9846,1.0000)" style="font-family:'Liberation Sans';font-size:40.55px;font-weight:400;font-kerning:none" fill="#fff"  stroke="#fff" stroke-width="0.88" stroke-linejoin="round">2018022241SS</text>
<rect x="3391.3" y="1523.0" width="89.8" height="10" fill="#d74e40"/>
<text transform="translate(3507.99,1541.90) scale(0.9846,1.0000)" style="font-family:'Liberation Sans';font-size:40.55px;font-weight:400;font-kerning:none" fill="#fff"  stroke="#fff" stroke-width="0.88" stroke-linejoin="round">2018022245SS</text>
<rect x="3391.3" y="1582.0" width="89.8" height="10" fill="#e25445"/>
<text transform="translate(3507.99,1600.90) scale(0.9846,1.0000)" style="font-family:'Liberation Sans';font-size:40.55px;font-weight:400;font-kerning:none" fill="#fff"  stroke="#fff" stroke-width="0.88" stroke-linejoin="round">2018022249SS</text>
<rect x="3391.3" y="1641.0" width="89.8" height="10" fill="#ee5a4a"/>
<text transform="translate(3507.99,1659.90) scale(0.9846,1.0000)" style="font-family:'Liberation Sans';font-size:40.55px;font-weight:400;font-kerning:none" fill="#fff"  stroke="#fff" stroke-width="0.88" stroke-linejoin="round">2018022253SS</text>
<rect x="40.2" y="1975" width="36.7" height="10" fill="#fff"/><rect x="93.2" y="1975" width="26.6" height="10" fill="#fff"/>
<rect x="40.2" y="2034.7" width="10.0" height="10" fill="#fff"/>
<rect x="66.7" y="2034.7" width="10.0" height="10" fill="#fff"/>
<rect x="93.2" y="2034.7" width="10.0" height="10" fill="#fff"/>
<rect x="119.0" y="2034.7" width="0.8" height="10" fill="#fff"/>
<rect x="40.4" y="2085.8" width="80.6" height="28" fill="#696c72" stroke="#9c9c9c" stroke-width="2"/>
<text transform="translate(151.63,1993.50) scale(1.0770,1.0000)" style="font-family:'Liberation Sans';font-size:39.99px;font-weight:400;font-kerning:none" fill="#fff"  stroke="#fff" stroke-width="0.49" stroke-linejoin="round">Mean Tropopause</text>
<text transform="translate(151.59,2053.27) scale(1.0843,1.0000)" style="font-family:'Liberation Sans';font-size:40.02px;font-weight:400;font-kerning:none" fill="#fff"  stroke="#fff" stroke-width="0.46" stroke-linejoin="round">Median Tropopause</text>
<text transform="translate(154.21,2113.04) scale(1.0712,1.0000)" style="font-family:'Liberation Sans';font-size:39.95px;font-weight:400;font-kerning:none" fill="#fff"  stroke="#fff" stroke-width="0.51" stroke-linejoin="round">Tropopause Range</text>
<text transform="translate(3268.03,2038.21) scale(0.9670,1.0000)" style="font-family:'Liberation Sans';font-size:32.88px;font-weight:400;font-kerning:none" fill="#808080"  stroke="#808080" stroke-width="0.78" stroke-linejoin="round">SAGE</text>
<text transform="translate(3449.87,2038.13) scale(0.9228,1.0000)" style="font-family:'Liberation Sans';font-size:32.64px;font-weight:400;font-kerning:none" fill="#808080"  stroke="#808080" stroke-width="0.95" stroke-linejoin="round">SS</text>
<text transform="translate(3498.68,2038.39) scale(1.0750,1.0000)" style="font-family:'Liberation Sans';font-size:33.41px;font-weight:400;font-kerning:none" fill="#808080"  stroke="#808080" stroke-width="0.42" stroke-linejoin="round">Mission</text>
<text transform="translate(3645.67,2038.32) scale(1.0318,1.0000)" style="font-family:'Liberation Sans';font-size:33.21px;font-weight:400;font-kerning:none" fill="#808080"  stroke="#808080" stroke-width="0.55" stroke-linejoin="round">NASA</text>
<text transform="translate(3748.70,2038.38) scale(1.0700,1.0000)" style="font-family:'Liberation Sans';font-size:33.38px;font-weight:400;font-kerning:none" fill="#808080"  stroke="#808080" stroke-width="0.43" stroke-linejoin="round">LaRC</text>
<path fill="#808080" d="M3369.0 2015.0H3380.1V2018.3H3376.4V2035.5H3380.1V2038.8H3369.0V2035.5H3372.7V2018.3H3369.0Z"/>
<path fill="#808080" d="M3385.2 2015.0H3396.3V2018.3H3392.6V2035.5H3396.3V2038.8H3385.2V2035.5H3388.9V2018.3H3385.2Z"/>
<path fill="#808080" d="M3401.3 2015.0H3412.2V2018.3H3408.6V2035.5H3412.2V2038.8H3401.3V2035.5H3404.9V2018.3H3401.3Z"/>
<path fill="#808080" d="M3435.1 2015.0H3446.2V2018.3H3442.5V2035.5H3446.2V2038.8H3435.1V2035.5H3438.8V2018.3H3435.1Z"/>
<path fill="#808080" d="M3414.9 2042.9L3419.3 2042.9L3432.2 2015.1L3427.8 2015.1Z"/>
<rect x="3631.6" y="2011" width="3.4" height="36.5" fill="#808080"/>
<text transform="translate(3311.15,2076.31) scale(1.0867,1.0000)" style="font-family:'Liberation Sans';font-size:33.17px;font-weight:400;font-kerning:none" fill="#808080"  stroke="#808080" stroke-width="0.38" stroke-linejoin="round">Preparer: Kevin R. Leavor (AMA)</text>
<text transform="translate(3388.49,2112.97) scale(1.0575,1.0000)" style="font-family:'Liberation Sans';font-size:33.04px;font-weight:400;font-kerning:none" fill="#808080"  stroke="#808080" stroke-width="0.47" stroke-linejoin="round">Generated 2025-07-17 22:25</text>
<text transform="translate(3532.68,2150.50) scale(1.0802,1.0000)" style="font-family:'Liberation Sans';font-size:33.14px;font-weight:400;font-kerning:none" fill="#808080"  stroke="#808080" stroke-width="0.40" stroke-linejoin="round">Data Version: 6.0.0</text>
<g id="logo">
<path fill="#e2594b" d="M3494.5 224.5V51.1A33.0 33.0 0 0 1 3527.5 18.1H3796.9A33.0 33.0 0 0 1 3829.9 51.1V224.5A167.7 167.7 0 0 1 3494.5 224.5Z"/>
<path fill="#06568c" d="M3501.3 224.5V53.8A28.9 28.9 0 0 1 3530.2 24.9H3794.2A28.9 28.9 0 0 1 3823.1 53.8V224.5A160.9 160.9 0 0 1 3501.3 224.5Z"/>
<clipPath id="lgdisc"><circle cx="3662.2" cy="220.8" r="127.5"/></clipPath>
<g clip-path="url(#lgdisc)">
<circle cx="3662.2" cy="220.8" r="128" fill="#05548a"/>
<circle cx="3135.8" cy="638.1" r="686.4" fill="#1272ad"/>
<circle cx="3135.8" cy="638.1" r="673.9" fill="#075a90" stroke="#e8f3fa" stroke-width="1"/>
<clipPath id="lgearth"><circle cx="3135.8" cy="638.1" r="673.4"/></clipPath>
<g clip-path="url(#lgearth)">
<path fill="#5ba46a" d="M3605.4 194.6 L3611.7 183.5 L3618.1 177.1 L3627.6 180.3 L3634.0 188.3 L3648.3 204.1 L3659.4 218.4 L3664.1 231.1 L3666.5 243.8 L3662.5 254.9 L3654.6 259.7 L3646.7 264.4 L3641.9 275.6 L3643.5 288.3 L3648.3 299.4 L3659.4 304.1 L3668.9 297.8 L3675.2 302.5 L3681.6 308.9 L3691.1 312.1 L3695.9 296.2 L3703.8 293.0 L3714.9 299.4 L3732.4 324.8 L3722.9 332.7 L3694.3 342.2 L3694.3 320.0 L3675.2 318.4 L3651.4 312.1 L3632.4 302.5 L3605.4 285.1Z"/>
<path fill="#075a90" d="M3621.3 202.5 L3626.0 199.4 L3630.8 205.7 L3635.6 202.5 L3641.9 208.9 L3646.7 205.7 L3653.0 213.7 L3649.8 221.6 L3645.1 215.2 L3640.3 224.8 L3635.6 215.2 L3632.4 221.6 L3627.6 212.1Z"/>
<path fill="#075a90" d="M3659.4 221.6 L3663.3 224.8 L3663.8 234.3 L3660.2 231.1Z"/>
</g>
<line x1="3714.9" y1="192.2" x2="3656.2" y2="159.7" stroke="#b9def4" stroke-width="0.95"/>
<line x1="3714.9" y1="192.2" x2="3645.9" y2="166.8" stroke="#b9def4" stroke-width="0.95"/>
<line x1="3714.9" y1="192.2" x2="3669.7" y2="226.3" stroke="#b9def4" stroke-width="0.95"/>
<line x1="3714.9" y1="192.2" x2="3675.2" y2="233.5" stroke="#b9def4" stroke-width="0.95"/>
<line x1="3714.9" y1="192.2" x2="3723.7" y2="258.1" stroke="#b9def4" stroke-width="0.95"/>
<line x1="3714.9" y1="192.2" x2="3734.0" y2="256.5" stroke="#b9def4" stroke-width="0.95"/>
<circle cx="3637.1" cy="143.9" r="23.8" fill="#f3f3f6"/>
<path fill="#b9bcc8" d="M3626 128 q6 -8 14 -4 q-4 6 2 8 q8 -2 8 6 q-2 8 -8 6 q0 8 -6 8 q-8 -2 -6 -10 q-6 -2 -4 -8 q-4 -6 0 -12z"/>
<path fill="#c4c7d2" d="M3614.5 151 A23.8 23.8 0 0 0 3652 162.5 A30 30 0 0 1 3614.5 151z"/>
<clipPath id="lgsun"><circle cx="3735.6" cy="281.0" r="23"/></clipPath>
<circle cx="3735.6" cy="281.0" r="23" fill="#c9cbd6"/>
<circle cx="3741.5" cy="277.5" r="25" fill="#fcdb94" clip-path="url(#lgsun)"/>
<path fill="#fff3c8" d="M3693.6 106.8L3695.1 114.9L3703.2 116.4L3695.1 117.9L3693.6 126.0L3692.1 117.9L3684.0 116.4L3692.1 114.9Z"/>
<circle cx="3693.6" cy="116.4" r="2.6" fill="#fbd36a"/>
<path fill="#fff" d="M3679.9 121.6L3680.9 126.6L3685.9 127.6L3680.9 128.6L3679.9 133.6L3678.9 128.6L3673.9 127.6L3678.9 126.6Z"/>
<path fill="#fff" d="M3703.4 126.6L3704.1 130.5L3708.0 131.2L3704.1 131.9L3703.4 135.8L3702.7 131.9L3698.8 131.2L3702.7 130.5Z"/>
<g transform="translate(3728.1,179) rotate(45.7)" fill="#d2d3d6">
<rect x="-22" y="-1.3" width="44" height="2.6" fill="#e3d9c6"/>
<rect x="-26.8" y="-18.6" width="2.5" height="16.9"/><rect x="-26.8" y="1.7" width="2.5" height="16.9"/>
<rect x="-23.4" y="-18.6" width="2.5" height="16.9"/><rect x="-23.4" y="1.7" width="2.5" height="16.9"/>
<rect x="-20.1" y="-18.6" width="2.5" height="16.9"/><rect x="-20.1" y="1.7" width="2.5" height="16.9"/>
<rect x="-16.8" y="-18.6" width="2.5" height="16.9"/><rect x="-16.8" y="1.7" width="2.5" height="16.9"/>
<rect x="14.3" y="-18.6" width="2.5" height="16.9"/><rect x="14.3" y="1.7" width="2.5" height="16.9"/>
<rect x="17.7" y="-18.6" width="2.5" height="16.9"/><rect x="17.7" y="1.7" width="2.5" height="16.9"/>
<rect x="21.0" y="-18.6" width="2.5" height="16.9"/><rect x="21.0" y="1.7" width="2.5" height="16.9"/>
<rect x="24.4" y="-18.6" width="2.5" height="16.9"/><rect x="24.4" y="1.7" width="2.5" height="16.9"/>
<path d="M-5.4 -5.0L3.8 -5.5M-7.7 11.1L-6.7 0.8M2.7 14.3L2.9 -3.7M7.5 11.1L7.8 -0.7M-6.5 14.8L7.8 14.0M-4.6 -5.0L-0.6 -1.1M-0.8 16.1L2.7 14.3" stroke="#e6e7ea" stroke-width="1.7" fill="none"/>
</g>
<path fill="#d9503f" d="M3543.3 153 L3554.9 149.1 L3562.6 151 L3568.4 157.8 L3575.2 165.5 L3579 175.2 L3581.9 186.8 L3587.7 191.6 L3595.4 188.7 L3600.3 185.8 L3605.1 191.6 L3608 196.4 L3607.8 345 L3520 345 L3520 210 L3531.7 168.4Z"/>
<path fill="#9f2a1c" d="M3546 200 L3556 212 L3560 236 L3562 345 L3549 345 L3540 250Z M3573 240 L3580 238 L3585 345 L3575 345Z M3595 236 L3601 230 L3606 345 L3598 345Z"/>
<path fill="#ee6a55" d="M3563 238 L3571 236 L3573 345 L3563 345Z M3586 238 L3593 236 L3597 345 L3587 345Z M3584 196 L3598 194 L3604 204 L3596 210 L3586 206Z"/>
<path fill="#9f2a1c" d="M3556 170 L3566 178 L3572 192 L3580 196 L3572 200 L3562 196 L3554 184Z"/>
</g>
<circle cx="3662.2" cy="220.8" r="134.3" fill="none" stroke="#d6d9e4" stroke-width="15.3"/>
<path fill="#d9503f" d="M3543.3 153 L3531.7 168.4 L3521.1 175.2 L3517.2 191.6 L3514.3 212 L3506 232 L3497 248 L3503.2 244 L3523.5 233.3 L3535 218.8 L3540 204 L3546 190Z"/>
<path fill="#9f2a1c" d="M3524 182 L3530 176 L3528 200 L3520 224 L3508 240 L3514 222 L3520 200Z"/>
<path d="M3554.9 207 L3572 214 L3585.8 217.7 L3606 216" stroke="#8a4a1e" stroke-width="4.6" fill="none"/>
<path fill="#b5702e" stroke="#6a2f12" stroke-width="1.6" d="M3585.5 217 L3594 213.5 L3602 217.5 L3602 227 L3593.5 231.5 L3585.5 227Z"/>
<path d="M3534.6 122 L3543.3 174.2 L3545.2 191.6 L3550 235 L3553 262 L3561 278 L3564.5 300" stroke="#8a4a1e" stroke-width="5.6" fill="none" stroke-linejoin="round"/>
<path d="M3535.2 122 L3543.9 174.2 L3545.8 191.6 L3550.6 235 L3553.6 262 L3561.6 278 L3565 300" stroke="#c98a3e" stroke-width="2.4" fill="none" stroke-linejoin="round"/>
<circle cx="3532.7" cy="112.9" r="9.4" fill="#cfd2dd" stroke="#f4f4f7" stroke-width="1.6"/>
<ellipse cx="3538.8" cy="182" rx="9.4" ry="8" fill="#e3ad74"/><path d="M3533 186 L3545 180 M3534 190 L3546 184" stroke="#b9773f" stroke-width="1.2"/>
<path fill="#8a2a1a" d="M3600.3 166.5 L3617.7 171.3 L3609 191.6 L3601.2 187.7Z"/><path fill="#c98a3e" d="M3612 170 L3617.7 171.3 L3609.5 190 L3606 188Z"/><ellipse cx="3611.5" cy="183" rx="4.6" ry="6.4" fill="#e3ad74"/>
<path fill="#fdfdfd" d="M3560.7 145.2 L3572.3 135.6 L3587.7 128.8 L3600.3 128.8 L3606.1 135.6 L3607 140.4 L3602.2 149.1 L3600.3 154.9 L3599.3 161.6 L3600.3 172.3 L3599.3 181.9 L3594.5 187.7 L3587.7 190.6 L3581.9 185.8 L3579 174.2 L3575.2 164.5 L3568.4 156.8 L3562.6 151Z"/>
<path fill="#e3ad74" d="M3579 140.4 L3587.7 133.6 L3597.4 132.7 L3604.1 137.5 L3606.1 143.3 L3601.2 149.1 L3599.3 154.9 L3591.6 157.8 L3583.9 153 L3581 147.2Z"/>
<path fill="#c98a4a" d="M3579 140.4 L3587.7 133.6 L3591 134 L3586 143 L3585 152 L3581 147.2Z"/>
<path fill="#fdfdfd" d="M3588 153 L3599 154 L3600 160 L3593 163 L3587 159Z"/><path d="M3593 141.5 L3600 144" stroke="#5a3a22" stroke-width="1.4"/>
<text transform="translate(3526.30,59.40) scale(0.9576,1.0000)" style="font-family:'Liberation Serif';font-size:43.07px;font-weight:700;font-kerning:none" fill="#fff" >SAGE</text>
<text transform="translate(3650.81,59.40) scale(1.0258,1.0000)" style="font-family:'Liberation Serif';font-size:43.07px;font-weight:700;font-kerning:none" fill="#fff" >III</text>
<circle cx="3715.7" cy="45.7" r="4.2" fill="#fff"/>
<text transform="translate(3732.10,59.40) scale(0.9677,1.0000)" style="font-family:'Liberation Serif';font-size:43.07px;font-weight:700;font-kerning:none" fill="#fff" >ISS</text>
<text transform="translate(3527.50,72.10) scale(0.9783,1.0000)" style="font-family:'Liberation Sans';font-size:8.87px;font-weight:400;font-kerning:none" fill="#e3ebf3"  stroke="#e3ebf3" stroke-width="0.20" stroke-linejoin="round">Stratospheric Aerosol and Gas Experiment III</text>
<text transform="translate(3736.26,72.15) scale(1.0824,1.0000)" style="font-family:'Liberation Sans';font-size:9.00px;font-weight:400;font-kerning:none" fill="#e3ebf3"  stroke="#e3ebf3" stroke-width="0.11" stroke-linejoin="round">International</text>
<text transform="translate(3733.12,82.94) scale(1.0773,1.0000)" style="font-family:'Liberation Sans';font-size:9.00px;font-weight:400;font-kerning:none" fill="#e3ebf3"  stroke="#e3ebf3" stroke-width="0.11" stroke-linejoin="round">Space Station</text>
<path id="lgarc" fill="none" d="M3508.71 257.17A157.4 157.4 0 0 0 3819.18 233.83"/>
<text style="font-family:'Liberation Sans';font-size:16.6px;font-weight:700;font-kerning:none" fill="#fff" textLength="447.8" lengthAdjust="spacingAndGlyphs"><textPath href="#lgarc" textLength="447.8" lengthAdjust="spacingAndGlyphs">BALL • NASA LANGLEY RESEARCH CENTER • TAS-I • ESA</textPath></text>
</g>
</svg></body></html>
